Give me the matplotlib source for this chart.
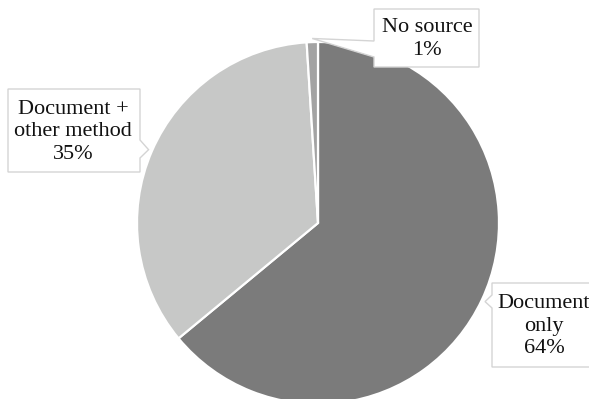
import numpy as np
import matplotlib.pyplot as plt
from matplotlib.patches import Polygon

plt.rcParams['font.family'] = ['Liberation Serif', 'DejaVu Serif']

# Data
labels = ['Document\nonly', 'Document +\nother method', 'No source']
shares = [64, 35, 1]
colors = ['#7b7b7b', '#c7c8c7', '#a3a3a3']

W, H = 589, 399
fig = plt.figure(figsize=(W / 100, H / 100), dpi=100)
ax = fig.add_axes([0, 0, 1, 1])

cx, cy, R = 318, H - 223, 181
wedges, _ = ax.pie(shares, colors=colors, startangle=90, counterclock=False,
                   center=(cx, cy), radius=R, frame=True,
                   wedgeprops=dict(edgecolor='white', linewidth=1.6))
ax.set_xlim(0, W)
ax.set_ylim(0, H)
ax.set_aspect('equal')
ax.axis('off')

# callout boxes (pixel coords from top): x0, y0, x1, y1, side, notch span, text centre
boxes = [
    (492, 283, 600, 367, 'left', (295, 308), (544, 326)),
    (8, 89, 140, 172, 'right', (140, 158), (73, 132)),
    (374, 9, 479, 67, 'left', (41, 57), (427, 39)),
]


def callout(box, tip):
    x0, y0, x1, y1, side, (n0, n1), _ = box
    if side == 'left':
        pts = [(x0, y0), (x1, y0), (x1, y1), (x0, y1), (x0, n1), tip, (x0, n0)]
    else:
        pts = [(x0, y0), (x1, y0), (x1, n0), tip, (x1, n1), (x1, y1), (x0, y1)]
    return [(px, H - py) for px, py in pts]


for w, lab, val, box in zip(wedges, labels, shares, boxes):
    mid = np.deg2rad((w.theta1 + w.theta2) / 2)
    tx = cx + 1.02 * R * np.cos(mid)
    ty = H - (cy + 1.02 * R * np.sin(mid))
    poly = Polygon(callout(box, (tx, ty)), closed=True, facecolor='white',
                   edgecolor='#d4d4d4', linewidth=1.0, zorder=3)
    ax.add_patch(poly)
    px, py = box[6]
    ax.text(px, H - py, f'{lab}\n{val}%', ha='center', va='center',
            fontsize=16, color='#111111', linespacing=1.22, zorder=4)

fig.savefig('out.png', dpi=100)
